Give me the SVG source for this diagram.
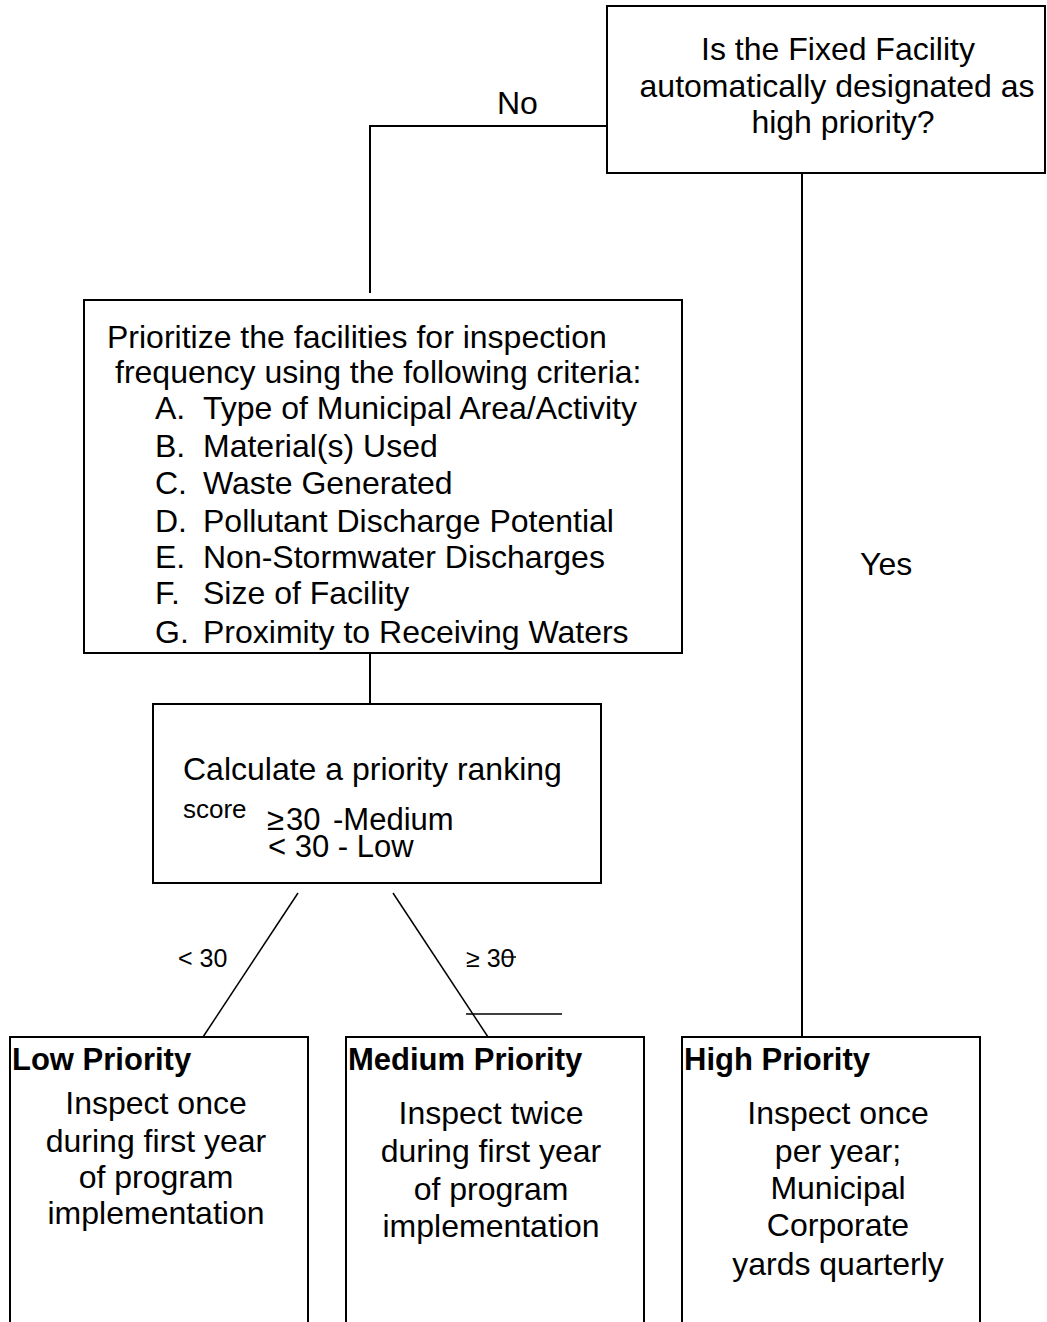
<svg xmlns="http://www.w3.org/2000/svg" width="1047" height="1322" viewBox="0 0 1047 1322">
  <style>
    .box { fill: #ffffff; stroke: #000000; stroke-width: 2; }
    .wire { fill: none; stroke: #000000; stroke-width: 2; }
    .thin { fill: none; stroke: #000000; stroke-width: 1.5; }
    text { font-family: "Liberation Sans", Arial, sans-serif; fill: #000000; }
    .t { font-size: 32px; }
    .c { text-anchor: middle; }
    .b { font-weight: bold; font-size: 31px; }
    .s { font-size: 25px; }
  </style>
  <rect width="1047" height="1322" fill="#ffffff"/>

  <!-- connectors -->
  <g id="connectors">
    <polyline class="wire" points="610,126 370,126 370,293"/>
    <line class="wire" x1="802" y1="173" x2="802" y2="1037"/>
    <line class="wire" x1="370" y1="653" x2="370" y2="704"/>
    <line class="thin" x1="298" y1="893" x2="203" y2="1037"/>
    <line class="thin" x1="393" y1="893" x2="488" y2="1037"/>
    <line class="thin" x1="466" y1="1014" x2="562" y2="1014"/>
    <line class="thin" x1="503" y1="957" x2="516" y2="957"/>
    <text class="t" x="497" y="114">No</text>
    <text class="t" x="860" y="575">Yes</text>
    <text class="s" x="178" y="967">&lt; 30</text>
    <text class="s" x="466" y="967">≥ 30</text>
  </g>

  <!-- decision: fixed facility -->
  <g id="node-decision">
    <rect class="box" x="607" y="6" width="438" height="167"/>
    <text class="t c" x="838" y="60">Is the Fixed Facility</text>
    <text class="t c" x="837" y="97">automatically designated as</text>
    <text class="t c" x="843" y="133">high priority?</text>
  </g>

  <!-- prioritization criteria -->
  <g id="node-criteria">
    <rect class="box" x="84" y="300" width="598" height="353"/>
    <text class="t" x="107" y="348">Prioritize the facilities for inspection</text>
    <text class="t" x="115" y="383">frequency using the following criteria:</text>
    <text class="t" x="155" y="419">A.</text><text class="t" x="203" y="419">Type of Municipal Area/Activity</text>
    <text class="t" x="155" y="457">B.</text><text class="t" x="203" y="457">Material(s) Used</text>
    <text class="t" x="155" y="494">C.</text><text class="t" x="203" y="494">Waste Generated</text>
    <text class="t" x="155" y="532">D.</text><text class="t" x="203" y="532">Pollutant Discharge Potential</text>
    <text class="t" x="155" y="568">E.</text><text class="t" x="203" y="568">Non-Stormwater Discharges</text>
    <text class="t" x="155" y="604">F.</text><text class="t" x="203" y="604">Size of Facility</text>
    <text class="t" x="155" y="643">G.</text><text class="t" x="203" y="643">Proximity to Receiving Waters</text>
  </g>

  <!-- score calculation -->
  <g id="node-score">
    <rect class="box" x="153" y="704" width="448" height="179"/>
    <text class="t" x="183" y="780">Calculate a priority ranking</text>
    <text x="183" y="818" font-size="26">score</text>
    <text font-size="31" y="830"><tspan x="267">≥</tspan><tspan x="286">30</tspan><tspan x="333">-Medium</tspan></text>
    <text font-size="31" x="268" y="857">&lt; 30 - Low</text>
  </g>

  <!-- outcomes -->
  <g id="node-low">
    <rect class="box" x="10" y="1037" width="298" height="300"/>
    <text class="b" x="12" y="1070">Low Priority</text>
    <text class="t c" x="156" y="1114">Inspect once</text>
    <text class="t c" x="156" y="1152">during first year</text>
    <text class="t c" x="156" y="1188">of program</text>
    <text class="t c" x="156" y="1224">implementation</text>
  </g>

  <g id="node-medium">
    <rect class="box" x="346" y="1037" width="298" height="300"/>
    <text class="b" x="348" y="1070">Medium Priority</text>
    <text class="t c" x="491" y="1124">Inspect twice</text>
    <text class="t c" x="491" y="1162">during first year</text>
    <text class="t c" x="491" y="1200">of program</text>
    <text class="t c" x="491" y="1237">implementation</text>
  </g>

  <g id="node-high">
    <rect class="box" x="682" y="1037" width="298" height="300"/>
    <text class="b" x="684" y="1070">High Priority</text>
    <text class="t c" x="838" y="1124">Inspect once</text>
    <text class="t c" x="838" y="1162">per year;</text>
    <text class="t c" x="838" y="1199">Municipal</text>
    <text class="t c" x="838" y="1236">Corporate</text>
    <text class="t c" x="838" y="1275">yards quarterly</text>
  </g>
</svg>
